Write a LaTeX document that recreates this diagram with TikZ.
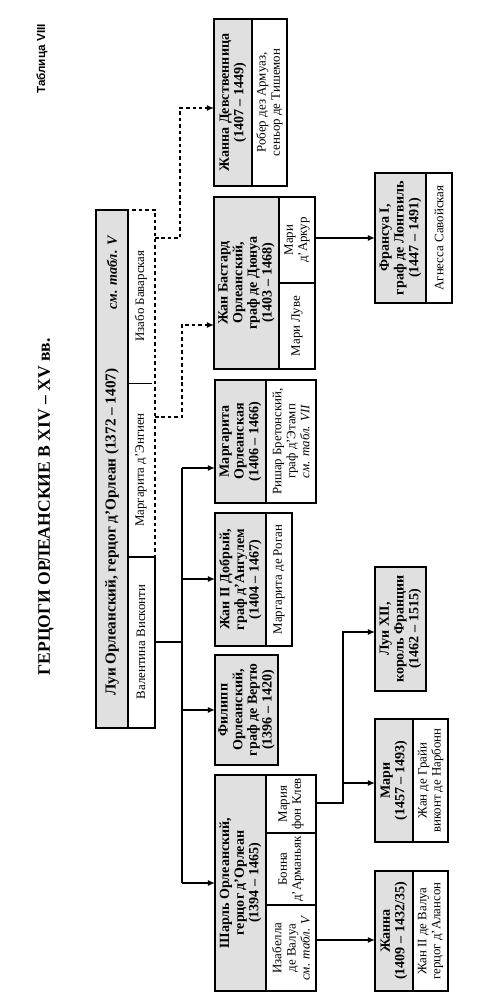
\documentclass[tikz,border=0pt]{standalone}
\usepackage{fontspec}
\setmainfont{Liberation Serif}
\setsansfont{Liberation Sans}
\usetikzlibrary{arrows.meta}
\newcommand\mkcell[6]{%
  \node[#1, minimum width={(#5-#3)*0.03cm}, minimum height={(#6-#4)*0.03cm}] (#2) at ({(#3+#5)/2},{(#4+#6)/2}) {};}
\begin{document}
\begin{tikzpicture}[x=0.03cm,y=-0.03cm,
  box/.style={draw, line width=1.2pt, inner sep=0pt, outer sep=0pt},
  shaded/.style={box, fill=black!12},
  plain/.style={box, fill=white},
  dbox/.style={draw, line width=1.1pt, dash pattern=on 3pt off 2.5pt, inner sep=0pt, outer sep=0pt},
  nm/.style={rotate=90, align=center, inner sep=0pt, font=\fontsize{12}{12.5}\selectfont\bfseries},
  sp/.style={rotate=90, align=center, inner sep=0pt, font=\fontsize{11}{12}\selectfont},
  conn/.style={line width=1.1pt},
  dconn/.style={line width=1.1pt, dash pattern=on 3pt off 2.5pt},
  arr/.style={-{Latex[length=6pt,width=5pt]}},
]
\fill[white] (0,0) rectangle (497,1000);
\useasboundingbox (0,0) rectangle (497,1000);

% titles
\node[rotate=90, font=\sffamily\fontsize{10}{12}\selectfont\bfseries] (tab) at (42,59) {Таблица VIII};
\node[rotate=90, font=\fontsize{15}{17}\selectfont\bfseries] (title) at (46,507) {ГЕРЦОГИ ОРЛЕАНСКИЕ В XIV -- XV вв.};

% Louis
\mkcell{dbox}{mistr}{128}{210}{155}{557}
\mkcell{shaded}{louis}{96}{210}{128}{728}
\mkcell{plain}{valent}{128}{557}{155}{728}
\node[nm, font=\fontsize{13}{14}\selectfont\bfseries] (louisT) at (112,532) {Луи Орлеанский, герцог д'Орлеан (1372 -- 1407)};
\node[nm, font=\fontsize{12}{14}\selectfont\bfseries\itshape] (louisR) at (112,273) {см. табл. V};
\node[sp] (valentT) at (141,642) {Валентина Висконти};
\node[sp] (marietT) at (141,470) {Маргарита д'Энгиен};
\node[sp] (isabT) at (141,296) {Изабо Баварская};
\coordinate (sepA) at (128,383);
\coordinate (sepB) at (152,383);
\draw[conn, line width=0.8pt] (sepA) -- (sepB);

% Jeanne la Pucelle
\mkcell{shaded}{jd}{214}{19}{252}{186}
\mkcell{plain}{jds}{252}{19}{287}{186}
\node[nm] (jdT) at (jd) {Жанна Девственница\\(1407 -- 1449)};
\node[sp] (jdsT) at (jds) {Робер дез Армуаз,\\сеньор де Тишемон};

% Jean Bastard
\mkcell{shaded}{jb}{214}{197}{279}{369}
\mkcell{plain}{jbs1}{279}{197}{315}{283}
\mkcell{plain}{jbs2}{279}{283}{315}{369}
\node[nm] (jbT) at (jb) {Жан Бастард\\Орлеанский,\\граф де Дюнуа\\(1403 -- 1468)};
\node[sp] (jbs1T) at (jbs1) {Мари\\д'Аркур};
\node[sp] (jbs2T) at (jbs2) {Мари Луве};

% Francois I
\mkcell{shaded}{fr}{375}{173}{426}{303}
\mkcell{plain}{frs}{426}{173}{452}{303}
\node[nm] (frT) at (fr) {Франсуа I,\\граф де Лонгвиль\\(1447 -- 1491)};
\node[sp] (frsT) at (frs) {Агнесса Савойская};

% Marguerite
\mkcell{shaded}{mo}{215}{380}{266}{503}
\mkcell{plain}{mos}{266}{380}{316}{503}
\node[nm] (moT) at (mo) {Маргарита\\Орлеанская\\(1406 -- 1466)};
\node[sp] (mosT) at (mos) {Ришар Бретонский,\\граф д'Этамп\\\textit{см. табл. VII}};

% Jean d'Angouleme
\mkcell{shaded}{ja}{215}{513}{266}{646}
\mkcell{plain}{jas}{266}{513}{292}{646}
\node[nm] (jaT) at (ja) {Жан II Добрый,\\граф д'Ангулем\\(1404 -- 1467)};
\node[sp] (jasT) at (jas) {Маргарита де Роган};

% Philippe
\mkcell{shaded}{ph}{215}{655}{278}{765}
\node[nm] (phT) at (ph) {Филипп\\Орлеанский,\\граф де Вертю\\(1396 -- 1420)};

% Charles
\mkcell{shaded}{ch}{215}{775}{266}{991}
\mkcell{plain}{chs1}{266}{775}{316}{833}
\mkcell{plain}{chs2}{266}{833}{316}{905}
\mkcell{plain}{chs3}{266}{905}{316}{991}
\node[nm] (chT) at (ch) {Шарль Орлеанский,\\герцог д'Орлеан\\(1394 -- 1465)};
\node[sp] (chs1T) at (chs1) {Мария\\фон Клев};
\node[sp] (chs2T) at (chs2) {Бонна\\д'Арманьяк};
\node[sp] (chs3T) at (chs3) {Изабелла\\де Валуа\\\textit{см. табл. V}};

% Louis XII
\mkcell{shaded}{lxii}{375}{567}{426}{691}
\node[nm] (lxiiT) at (lxii) {Луи XII,\\король Франции\\(1462 -- 1515)};

% Marie
\mkcell{shaded}{ma}{375}{719}{413}{842}
\mkcell{plain}{mas}{413}{719}{448}{842}
\node[nm] (maT) at (ma) {Мари\\(1457 -- 1493)};
\node[sp] (masT) at (mas) {Жан де Грайи\\виконт де Нарбонн};

% Jeanne
\mkcell{shaded}{je}{375}{871}{413}{991}
\mkcell{plain}{jes}{413}{871}{448}{991}
\node[nm] (jeT) at (je) {Жанна\\(1409 -- 1432/35)};
\node[sp] (jesT) at (jes) {Жан II де Валуа\\герцог д'Алансон};

% dashed connectors
\coordinate (k1) at (180,238);
\coordinate (k1t) at (180,108);
\draw[dconn, arr] (mistr.east |- k1) -- (k1) -- (k1t) -- (jd.west |- k1t);
\coordinate (k2) at (182,417);
\coordinate (k2t) at (182,325);
\draw[dconn, arr] (mistr.east |- k2) -- (k2) -- (k2t) -- (jb.west |- k2t);

% children of Valentina
\coordinate (bt) at (182,468);
\coordinate (bj) at (182,642);
\coordinate (b2) at (182,579);
\coordinate (b3) at (182,710);
\coordinate (bb) at (182,883);
\draw[conn] (valent.east |- bj) -- (bj);
\draw[conn] (bt) -- (bb);
\draw[conn, arr] (bt) -- (mo.west |- bt);
\draw[conn, arr] (b2) -- (ja.west |- b2);
\draw[conn, arr] (b3) -- (ph.west |- b3);
\draw[conn, arr] (bb) -- (ch.west |- bb);

% Francois
\coordinate (fy) at (345,238);
\draw[conn, arr] (jbs1.east |- fy) -- (fr.west |- fy);

% Charles' children
\coordinate (c1) at (343,803);
\coordinate (c1m) at (343,783);
\coordinate (c1t) at (343,632);
\draw[conn, arr] (chs1.east |- c1) -- (c1) -- (c1t) -- (lxii.west |- c1t);
\draw[conn, arr] (c1m) -- (ma.west |- c1m);
\coordinate (c3) at (343,940);
\draw[conn, arr] (chs3.east |- c3) -- (je.west |- c3);
\end{tikzpicture}
\end{document}
